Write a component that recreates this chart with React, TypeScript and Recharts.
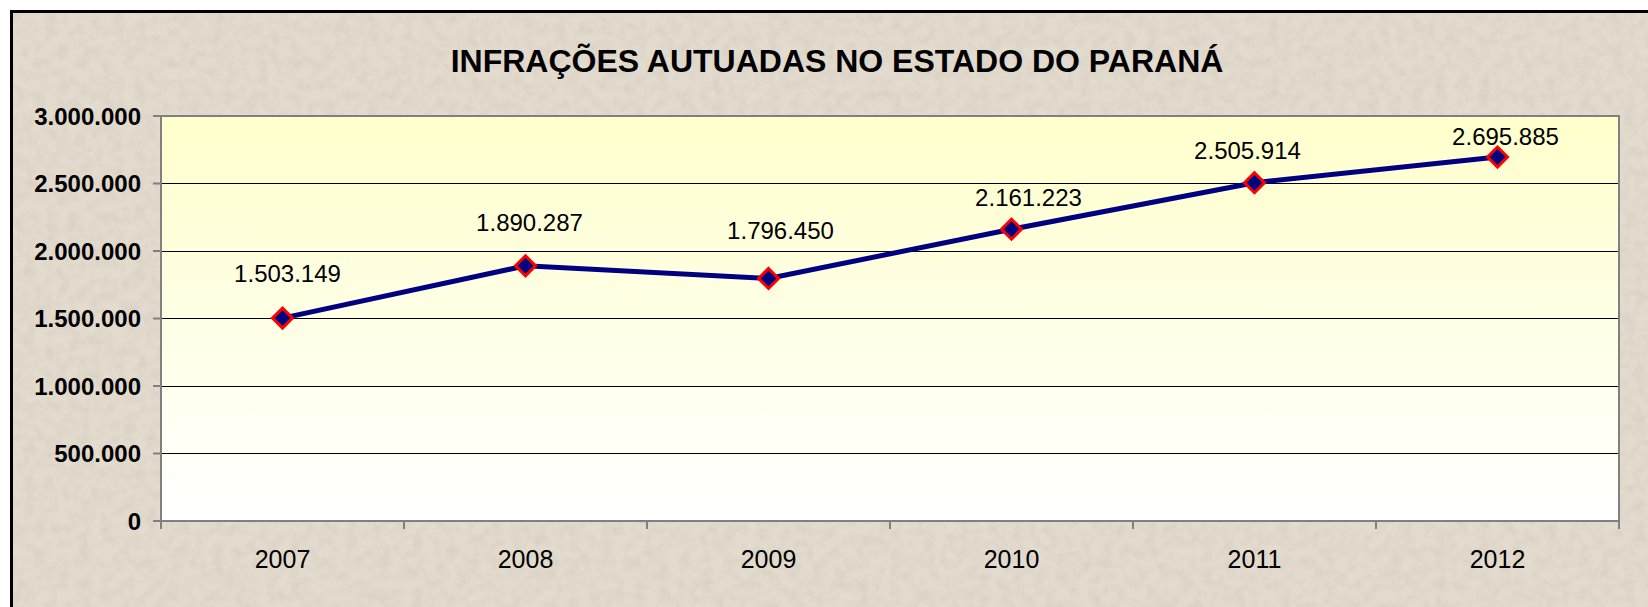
import React from "react";
import {
  LineChart,
  Line,
  XAxis,
  YAxis,
  CartesianGrid,
  LabelList,
  ReferenceArea,
} from "recharts";

const YEARS = ["2007", "2008", "2009", "2010", "2011", "2012"];
const INFRACOES = [1503149, 1890287, 1796450, 2161223, 2505914, 2695885];
const Y_TICKS = [0, 500000, 1000000, 1500000, 2000000, 2500000, 3000000];

// label nudges (px) so the value labels sit where the original put them
const LABEL_DX = [5, 4, 12, 17, -7, 8];
const LABEL_DY = [-36, -35, -39, -23, -24, -12];

const W = 1648;
const H = 607;
const M_TOP = 116;
const M_RIGHT = 29;
const Y_W = 161;
const X_H = 86;
const PLOT_BOTTOM = H - X_H;
const BAND = (W - Y_W - M_RIGHT) / YEARS.length;
const FONT = "'Liberation Sans', Arial, sans-serif";

const data = YEARS.map((year, i) => ({ year, value: INFRACOES[i] }));

const fmt = (n: number) => String(n).replace(/\B(?=(\d{3})+(?!\d))/g, ".");

// snap 1px grid lines to the pixel grid so they stay black
const GridLine = ({ x1, x2, y1 }: any) => {
  const y = Math.round(y1 - 0.5) + 0.5;
  return <line x1={x1} x2={x2} y1={y} y2={y} stroke="#000" strokeWidth={1} />;
};

const XTick = ({ x, payload, index }: any) => {
  const half = BAND / 2;
  return (
    <g>
      {index === 0 && (
        <line
          x1={x - half}
          x2={x - half}
          y1={PLOT_BOTTOM}
          y2={PLOT_BOTTOM + 8}
          stroke="#808080"
          strokeWidth={2}
        />
      )}
      <line
        x1={x + half}
        x2={x + half}
        y1={PLOT_BOTTOM}
        y2={PLOT_BOTTOM + 8}
        stroke="#808080"
        strokeWidth={2}
      />
      <text
        x={x}
        y={568}
        textAnchor="middle"
        fontSize={25}
        fontFamily={FONT}
        fill="#000"
      >
        {payload.value}
      </text>
    </g>
  );
};

const Diamond = ({ cx, cy }: any) => {
  const r = 10;
  return (
    <path
      d={`M${cx},${cy - r} L${cx + r},${cy} L${cx},${cy + r} L${cx - r},${cy} Z`}
      fill="#000080"
      stroke="#ff0000"
      strokeWidth={3}
    />
  );
};

const ValueLabel = (props: any) => {
  const { index, value } = props;
  const x = props.x ?? props.viewBox?.x;
  const y = props.y ?? props.viewBox?.y;
  return (
    <text
      x={x + LABEL_DX[index]}
      y={y + LABEL_DY[index]}
      textAnchor="middle"
      fontSize={24}
      fontFamily={FONT}
      fill="#000"
    >
      {fmt(value)}
    </text>
  );
};

export default function App() {
  return (
    <div
      style={{
        position: "relative",
        width: W,
        height: H,
        overflow: "hidden",
        background: "#fff",
      }}
    >
      <style>{`body{margin:0}`}</style>
      <div
        style={{
          position: "absolute",
          left: 10,
          top: 10,
          width: 1700,
          height: 700,
          border: "3px solid #000",
          background: "#e3dbce",
        }}
      >
        <svg width={1700} height={700} style={{ position: "absolute", left: 0, top: 0 }}>
          <filter id="paper">
            <feTurbulence type="fractalNoise" baseFrequency="0.09" numOctaves="3" seed="4" />
            <feColorMatrix
              type="matrix"
              values="0 0 0 0 0.55  0 0 0 0 0.5  0 0 0 0 0.42  0.6 0 0 0 -0.22"
            />
          </filter>
          <rect width={1700} height={700} filter="url(#paper)" />
        </svg>
      </div>
      <div
        style={{
          position: "absolute",
          left: 0,
          width: 1674,
          top: 45,
          textAlign: "center",
          fontFamily: FONT,
          fontWeight: "bold",
          fontSize: 32,
          lineHeight: "32px",
          color: "#000",
        }}
      >
        INFRAÇÕES AUTUADAS NO ESTADO DO PARANÁ
      </div>
      <div style={{ position: "absolute", left: 0, top: 0 }}>
        <LineChart
          width={W}
          height={H}
          data={data}
          margin={{ top: M_TOP, right: M_RIGHT, bottom: 0, left: 0 }}
        >
          <defs>
            <linearGradient id="plotBg" x1="0" y1="0" x2="0" y2="1">
              <stop offset="0%" stopColor="#ffffcc" />
              <stop offset="100%" stopColor="#ffffff" />
            </linearGradient>
          </defs>
          <CartesianGrid
            vertical={false}
            horizontal={(p: any) => <GridLine key={p.key ?? p.index} {...p} />}
            stroke="#000"
            strokeWidth={1}
            fill="url(#plotBg)"
            fillOpacity={1}
          />
          <ReferenceArea
            y1={0}
            y2={3000000}
            fill="none"
            fillOpacity={0}
            stroke="#808080"
            strokeWidth={2}
          />
          <XAxis
            dataKey="year"
            scale="band"
            height={X_H}
            interval={0}
            tickLine={false}
            axisLine={{ stroke: "#808080", strokeWidth: 2 }}
            tick={<XTick />}
          />
          <YAxis
            width={Y_W}
            domain={[0, 3000000]}
            ticks={Y_TICKS}
            interval={0}
            tickFormatter={fmt}
            tickSize={8}
            tickMargin={12}
            tickLine={{ stroke: "#808080", strokeWidth: 2 }}
            axisLine={{ stroke: "#808080", strokeWidth: 2 }}
            tick={{ fontSize: 24, fontWeight: "bold", fill: "#000", fontFamily: FONT }}
          />
          <Line
            type="linear"
            dataKey="value"
            stroke="#000080"
            strokeWidth={5}
            isAnimationActive={false}
            dot={(p: any) => <Diamond key={p.index} cx={p.cx} cy={p.cy} />}
            activeDot={false}
          >
            <LabelList dataKey="value" content={<ValueLabel />} />
          </Line>
        </LineChart>
      </div>
    </div>
  );
}
